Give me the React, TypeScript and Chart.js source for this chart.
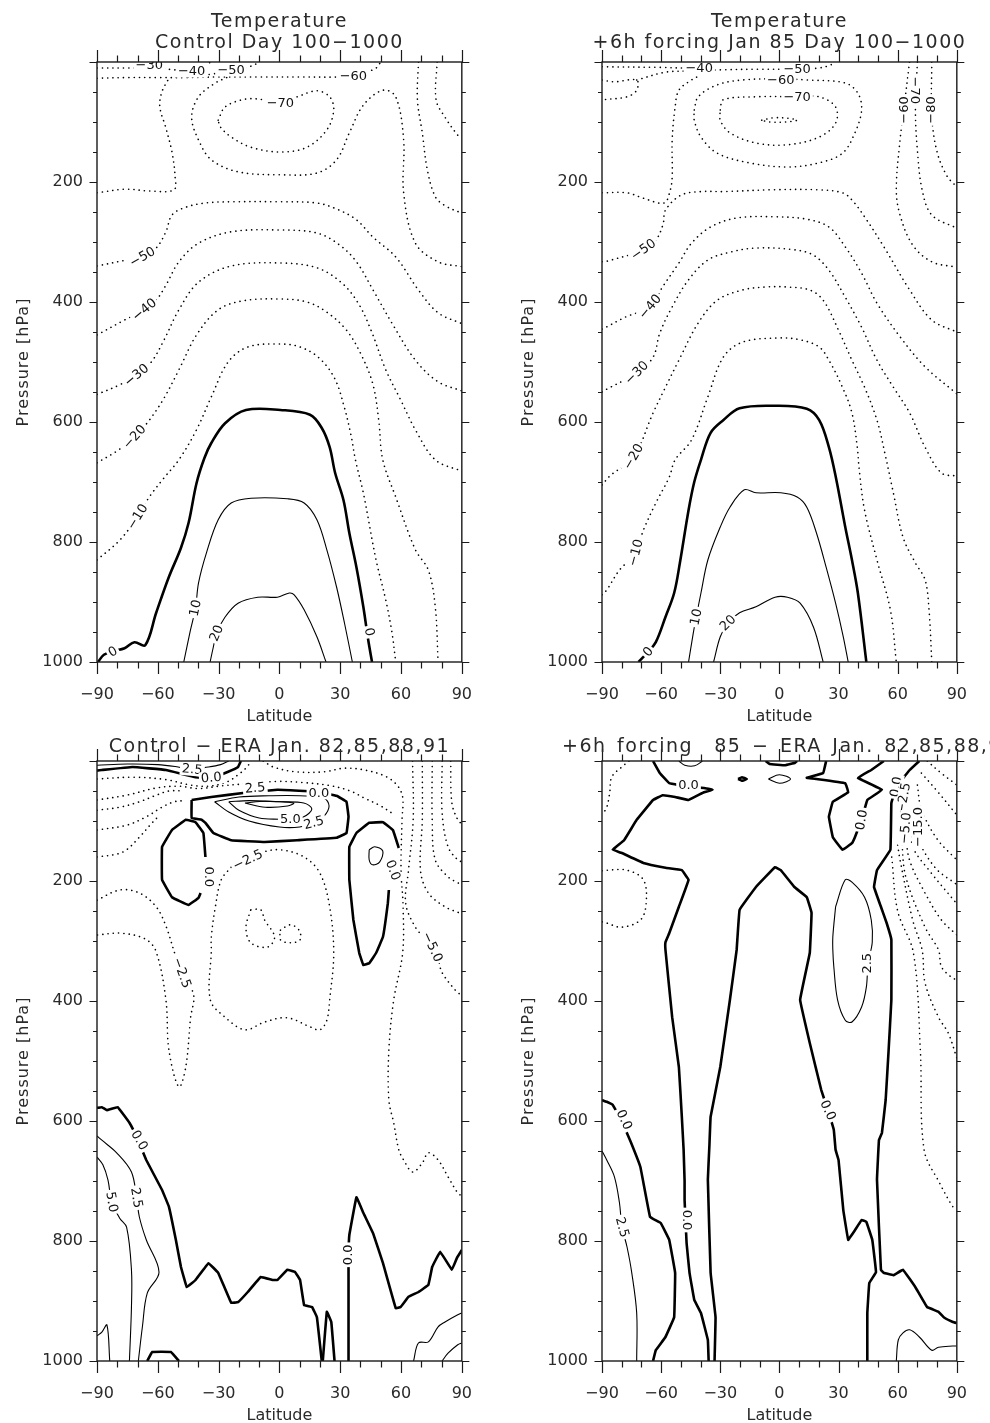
import React, { useEffect, useRef } from 'react';
import { Chart, registerables } from 'chart.js';
Chart.register(...registerables);

type P = [number, number];
type Lbl = [string, number, number, number];

// ---------- shared ticks ----------
const latTicks = [-90, -60, -30, 0, 30, 60, 90];
const presTicks = [200, 400, 600, 800, 1000];

// ---------- Panel A: Temperature, Control ----------
const A_0: P[] = [[-89.5,1000],[-86.6,988],[-82,982],[-76.4,977],[-71.5,967],[-66.2,972],[-60.8,918],[-54.5,858],[-48.6,810],[-44.8,768],[-40.9,702],[-37,660],[-33.6,635],[-26.8,602],[-16.5,580],[0.5,580],[15.1,588],[20.9,610],[24.8,642],[27.5,685],[31.6,730],[34.5,785],[38,842],[41.4,908],[43.8,963],[45.7,1000]];
const A_10: P[] = [[-47.2,1000],[-43.9,947],[-41.4,910],[-39.9,868],[-36,818],[-30.2,763],[-23.8,735],[-14,727],[3.9,728],[12.2,735],[18.5,763],[23.4,813],[28.2,875],[32.1,935],[36,1000]];
const A_20: P[] = [[-34.2,1000],[-32.6,975],[-31,952],[-26.8,925],[-20.4,902],[-10.7,892],[-1,892],[4.9,885],[7.3,888],[12.2,913],[18.5,958],[23,1000]];
const A_m10: P[] = [[-90,830],[-78.8,797],[-70,758],[-64.2,725],[-56.9,693],[-49.6,663],[-40.9,613],[-33.6,558],[-25.3,500],[-15.6,475],[0.5,470],[10.2,475],[19.5,493],[27.2,527],[32,575],[35.5,625],[37.5,663],[41.4,718],[47.7,830],[52.5,897],[55.5,950],[57.4,1000]];
const A_m20: P[] = [[-90,668],[-80,648],[-71.5,625],[-64.2,597],[-56.9,560],[-49.6,513],[-40.9,455],[-30.2,413],[-18,398],[0.5,395],[13.6,400],[23.4,417],[33.1,447],[40.4,488],[46.2,538],[49,597],[51,663],[57.4,725],[67.1,813],[73.5,847],[76.9,908],[78.3,1000]];
const A_m30: P[] = [[-90,554],[-78.8,538],[-70.5,522],[-63.2,500],[-56.9,463],[-49.6,413],[-39.9,367],[-23.8,340],[0.5,335],[18.5,343],[30.7,368],[38.9,402],[45.2,447],[52.5,513],[59.8,563],[67.1,613],[76.9,663],[90,682]];
const A_m40: P[] = [[-90,455],[-76.4,430],[-66.6,413],[-60.8,397],[-56,372],[-49.6,333],[-39.9,302],[-23.8,283],[0.5,280],[18.5,285],[29.7,305],[38,333],[46.2,380],[56,438],[67.1,497],[78.3,533],[90,548]];
const A_m50: P[] = [[-90,340],[-75.4,330],[-67.6,325],[-60.8,310],[-56,283],[-53,255],[-46.2,242],[-36.5,235],[-23.8,233],[0.5,233],[18.5,235],[28.2,245],[38,263],[46.2,292],[57.4,325],[68.6,380],[78.3,418],[90,436]];
const A_m60a: P[] = [[-90,218],[-76,212],[-64,215],[-52,213],[-51.5,190],[-53,150],[-56,110],[-59,75],[-58,50],[-55,30]];
const A_m60b: P[] = [[-90,27],[-75,26],[-60,26],[-45,26],[-30,25],[-10,25],[10,25],[30,25],[36.5,23],[42,18],[47.7,10],[50,0]];
const A_m60c: P[] = [[-26,26],[-31.6,35],[-39.9,58],[-43.3,92],[-39.9,130],[-33.6,163],[-20.4,183],[0.5,188],[18.5,185],[28.2,163],[34.5,118],[41.4,72],[51.1,47],[57.4,58],[61.3,130],[61.3,218],[67.1,302],[78.3,333],[90,341]];
const A_m70: P[] = [[-30.2,97],[-26.8,75],[-17,62],[-7.3,63],[0.5,68],[8.8,58],[18.5,48],[24.8,58],[26.8,80],[23.4,113],[13.6,142],[0.5,150],[-14.1,142],[-23.8,125],[-29.2,108],[-30.2,97]];
const A_m70b: P[] = [[68.6,0],[68.1,63],[70.5,118],[73,180],[77,225],[82,240],[90,252]];
const A_m80: P[] = [[77.8,0],[77.3,63],[81.7,92],[88,122],[90,127]];
const A_m30t: P[] = [[-90,10],[-75,10],[-67,9],[-62,4],[-60,0]];
const A_m40t: P[] = [[-62,9],[-52,13],[-43.3,15],[-38,10],[-34,0]];
const A_m50t: P[] = [[-45,25],[-33,20],[-23.8,14],[-16,9],[-12,4],[-10,0]];
const A_labels: Lbl[] = [
  ['−30',-64.2,5,0],['−40',-43.3,15,0],['−50',-23.8,13,0],['−60',36.5,23,0],['−70',0.5,68,0],
  ['−50',-67.6,325,-30],['−40',-66.6,413,-40],['−30',-70.5,522,-40],['−20',-71.5,625,-48],['−10',-70,758,-58],
  ['0',-82.2,983,-30],['10',-41.4,910,-78],['20',-31,952,-68],['0',44.3,950,80],
];

// ---------- Panel B: Temperature, +6h forcing ----------
const B_0: P[] = [[-71.5,1000],[-70.6,997],[-66.6,983],[-62.7,967],[-57.8,925],[-53.4,885],[-50.5,835],[-46.1,747],[-43.2,700],[-39.8,663],[-34.9,618],[-28.5,597],[-20.2,577],[-2.2,573],[13.9,578],[20.2,597],[25.1,642],[28.8,695],[33.4,775],[36.8,830],[39.8,885],[44.1,1000]];
const B_10: P[] = [[-46.1,1000],[-43.7,952],[-42.2,925],[-39.8,885],[-36.3,830],[-30,775],[-25.1,742],[-17.8,713],[-11.9,718],[0.7,718],[9,725],[13.9,742],[18.8,785],[23.7,842],[28.5,902],[32.4,958],[34.9,1000]];
const B_20: P[] = [[-33.4,1000],[-30,958],[-26.1,935],[-20.2,918],[-11.9,908],[-2.2,892],[4.1,892],[10.5,902],[17.3,942],[22.2,1000]];
const B_m10: P[] = [[-90,888],[-87.6,880],[-81.2,847],[-72.9,818],[-69,780],[-62.7,735],[-55.9,692],[-52.9,663],[-44.6,630],[-36.3,558],[-28.5,492],[-18.8,467],[-0.7,460],[10.5,463],[20.2,475],[25.1,497],[32,542],[36.8,585],[39.5,642],[40.5,680],[43.2,747],[49.5,830],[56.3,913],[59.3,1000]];
const B_m20: P[] = [[-90,705],[-86,690],[-74,658],[-64.1,585],[-57.8,542],[-51,497],[-41.2,435],[-31.5,397],[-18.8,380],[-7.1,375],[4.1,375],[15.4,380],[22.2,397],[30,447],[36.8,497],[43.2,542],[49.5,597],[53.5,652],[57.8,718],[62.7,792],[69,835],[73.9,863],[75.9,913],[77.3,1000]];
const B_m30: P[] = [[-90,550],[-88.5,547],[-72.4,518],[-64.1,492],[-60.7,452],[-54.4,408],[-46.1,363],[-36.3,330],[-25.1,317],[-11.9,310],[7.6,313],[17.3,322],[25.1,347],[33.4,392],[41.7,442],[49.5,497],[57.8,542],[66.1,585],[73.9,642],[82.2,685],[90,690]];
const B_m40: P[] = [[-90,445],[-88.5,443],[-78,425],[-65.6,408],[-59.3,375],[-51,335],[-44.6,302],[-34.9,275],[-21.7,260],[-2.2,258],[13.9,262],[25.1,275],[33.4,308],[41.7,352],[49.5,402],[61.2,458],[73.9,508],[90,553]];
const B_m50: P[] = [[-90,333],[-88.5,333],[-69,313],[-62.7,297],[-59,270],[-57.8,247],[-50,222],[-40,216],[-28.5,216],[-4.1,213],[20,213],[32,218],[36.8,230],[43.2,258],[53,308],[66.1,380],[77.3,430],[90,450]];
const B_m60a: P[] = [[-90,218],[-77.3,218],[-69,227],[-58.5,235],[-55.5,215],[-54.4,192],[-54.4,130],[-52.9,75],[-51,47],[-44.6,30],[-40,22]];
const B_m60: P[] = [[-43.2,80],[-41.2,58],[-31.5,38],[-18.8,30],[0.7,28],[13.9,30],[33.4,35],[39.8,52],[41.7,80],[38.3,118],[32,152],[20.2,168],[4.1,175],[-15.4,168],[-31.5,152],[-39.8,125],[-43.2,97],[-43.2,80]];
const B_m70: P[] = [[-30,80],[-28.5,63],[-11.9,58],[9,58],[20.2,58],[28.5,75],[28.5,102],[20.2,125],[4.1,138],[-11.9,135],[-25.1,118],[-30,97],[-30,80]];
const B_m80: P[] = [[-9,97],[-3,93],[5,94],[9,97],[3,100],[-5,100],[-9,97]];
const B_m40t: P[] = [[-90,8],[-60,9],[-45,10],[-36,6],[-32,0]];
const B_m50u: P[] = [[-90,30],[-83.7,33],[-72.4,30],[-72.4,47],[-77.3,58],[-90,63]];
const B_m50t: P[] = [[-72.4,30],[-57.8,17],[-44.6,15],[-28.5,13],[-10,12],[9,12],[20,10],[26,5],[28,0]];
const B_m60r: P[] = [[66,0],[63.7,63],[61.2,130],[59.3,213],[61.2,255],[67.6,305],[77.3,333],[90,342]];
const B_m70r: P[] = [[70,0],[69,80],[70,147],[72.4,213],[77.3,255],[90,277]];
const B_m80r: P[] = [[77.3,0],[77.3,90],[80,150],[85,190],[90,208]];
const B_labels: Lbl[] = [
  ['−40',-40.7,10,0],['−50',9,12,0],['−60',0.7,30,0],['−70',9,58,0],
  ['−60',63.2,80,-90],['−70',68.8,47,90],['−80',77,80,-90],
  ['−50',-69,313,-35],['−40',-65.6,408,-50],['−30',-72.4,518,-45],['−20',-74,658,-60],['−10',-72.9,818,-75],
  ['0',-66.6,983,-50],['10',-42.2,925,-78],['20',-26.1,935,-45],
];

// ---------- Panel C: Control - ERA ----------
const C_0a: P[] = [[-90,16],[-87.6,15],[-72.5,10],[-56,15],[-41.4,27],[-33,28],[-25.3,18],[-20.4,10],[-19,0]];
const C_25a: P[] = [[-90,7],[-75,5],[-60,6],[-50,10],[-43.3,14],[-37,11],[-29,6],[-25,0]];
const C_0b: P[] = [[-43.3,65],[-33.6,60],[-17,53],[-1,48],[12.2,50],[20,52],[28.2,58],[33.1,68],[34.1,93],[33.1,120],[28.2,128],[8.8,132],[-7.3,135],[-23.8,132],[-32.6,120],[-36.5,103],[-38.4,98],[-43.3,95],[-43.3,65]];
const C_0c: P[] = [[-36.5,160],[-37.5,120],[-41.4,102],[-46.2,98],[-53,115],[-57.9,143],[-57.9,198],[-53,227],[-44.8,240],[-39.9,228],[-38.9,220]];
const C_0d: P[] = [[58.9,145],[56,115],[51.1,102],[44.3,103],[38,120],[34.5,143],[34.5,198],[36.5,265],[39.4,320],[41.4,340],[44.3,337],[47.7,320],[51.1,293],[53.5,237],[54,215]];
const C_25b: P[] = [[44.3,148],[47,143],[51,150],[49.5,168],[46,173],[44.3,165],[44.3,148]];
const C_25c: P[] = [[-32,68],[-25,85],[-15,100],[0,110],[10,110],[17,103],[22,92],[24.5,75],[22,62],[10,58],[-5,58],[-20,60],[-32,68]];
const C_50: P[] = [[-25,68],[-20,82],[-10,95],[0,97],[5,97],[12,93],[16,80],[12,70],[0,68],[-15,66],[-25,68]];
const C_75: P[] = [[-17,70],[-7,77],[4,75],[7,70],[-7,67],[-17,70]];
const C_m25big: P[] = [[-23.8,177],[-28.7,198],[-31.6,243],[-33.6,293],[-33.6,315],[-34.1,398],[-26.8,427],[-17,448],[-7.3,435],[3.9,428],[15.1,443],[20,448],[23.4,432],[24.8,398],[26.8,320],[24.8,243],[20,187],[12.2,160],[0.5,148],[-9.2,153],[-15.6,165],[-23.8,177]];
const C_m5a: P[] = [[-14.1,248],[-9.2,248],[-7.3,265],[-2.4,293],[-5.8,310],[-14.1,303],[-16.5,277],[-14.1,248]];
const C_m5b: P[] = [[0.5,282],[5.4,273],[9.7,282],[10.2,298],[5.4,303],[0.5,298],[0.5,282]];
const C_m25l: P[] = [[-90,232],[-78.8,215],[-69.1,220],[-60.8,243],[-56,275],[-51,327],[-47,360],[-42.3,390],[-43.8,427],[-46.2,510],[-49.6,543],[-54.5,482],[-56,398],[-60.8,318],[-66,297],[-78,287],[-90,290]];
const C_u1: P[] = [[-90,30],[-72.5,27],[-56,31],[-44,40],[-35,42],[-26,35],[-20,22],[-16,10],[-14,0]];
const C_u2: P[] = [[-90,65],[-75.4,57],[-60.8,45],[-49.6,42],[-40,46],[-30,42],[-17,38],[-1,34],[12,36],[25,41],[35,50],[42,62],[50,75],[56,88]];
const C_u3: P[] = [[-90,82],[-78.8,77],[-69.1,68],[-60.8,57],[-54.5,50],[-47,50]];
const C_u4: P[] = [[-90,115],[-75.4,107],[-65.7,93],[-57.9,77],[-52,68],[-47,66]];
const C_u5: P[] = [[-90,160],[-80,155],[-75.4,148],[-69.1,127],[-62.8,103],[-59,90]];
const C_0e: P[] = [[-90,578],[-87.6,577],[-85.1,582],[-79.8,577],[-74,603],[-70,630],[-65.7,665],[-57.9,715],[-54.5,743],[-51.1,798],[-48.6,843],[-45.7,877],[-41.4,865],[-35,837],[-30.2,853],[-23.8,903],[-20.4,902],[-15.6,885],[-9.2,860],[-3.4,865],[-1,865],[3.9,848],[7.8,852],[10.2,865],[12.2,907],[16.1,910],[18.5,927],[20.9,1000]];
const C_0f: P[] = [[21.4,1000],[23.4,918],[25.6,935],[27.2,1000]];
const C_0g: P[] = [[-65.2,1000],[-62.8,985],[-53.5,985],[-49.6,1000]];
const C_0h: P[] = [[34.1,1000],[34.1,860],[34.1,823],[34.5,790],[38,727],[41.4,753],[46.2,787],[51.1,837],[57.4,912],[59.8,910],[63.7,893],[68.6,885],[73.5,873],[75.4,843],[79.3,818],[85.1,848],[87.6,828],[90,815]];
const C_25d: P[] = [[-90,625],[-87.6,632],[-80.3,653],[-73,685],[-70.5,728],[-69.1,760],[-65.7,798],[-59.4,852],[-65.2,887],[-67.6,943],[-69.6,1000]];
const C_50d: P[] = [[-90,660],[-87.1,673],[-84.6,698],[-82.7,735],[-78.8,762],[-75.4,777],[-73,848],[-73,910],[-74,1000]];
const C_75d: P[] = [[-90,958],[-87.6,952],[-85.1,940],[-83.7,1000]];
const C_25e: P[] = [[66.2,1000],[68.6,970],[73.5,968],[78.3,943],[81.7,935],[88,923],[90,920]];
const C_50e: P[] = [[80.3,1000],[83.2,987],[88,973],[90,970]];
const C_b1: P[] = [[-8,0],[-3,10],[8,18],[22,18],[32,12],[42,15],[52,25],[58,40],[60.8,60],[60.5,98],[60,182],[61,240],[60.8,320],[56.4,398],[54,482],[54,565],[56.4,603],[58.9,648],[61.3,665],[65.7,685],[70.5,670],[73.5,653],[78.3,665],[83.2,693],[88,720],[90,725]];
const C_b2: P[] = [[65.7,0],[66,98],[63.7,182],[62.3,237],[67.1,277],[73.5,303],[78.3,332],[80.3,353],[87.6,385],[90,390]];
const C_b3: P[] = [[70.5,0],[70.5,98],[69.6,182],[73.5,220],[81.7,243],[88,252],[90,254]];
const C_b4: P[] = [[75.4,0],[75.4,98],[76.9,165],[83.2,193],[88,203],[90,206]];
const C_b5: P[] = [[80.3,0],[80.3,87],[83.2,143],[88,165],[90,168]];
const C_b6: P[] = [[84.5,0],[85.1,70],[88,98],[90,105]];
const C_labels: Lbl[] = [
  ['2.5',-43,14,5],['0.0',-33.6,28,-5],['2.5',-12,45,-5],['0.0',19.5,53,0],['5.0',5.4,97,0],['2.5',17,103,-15],
  ['−2.5',-15.6,165,-25],['0.0',-35,193,90],['0.0',56,182,70],['−2.5',-48.2,353,70],['−5.0',75.4,310,65],
  ['0.0',-69.1,632,60],['5.0',-82.7,735,80],['2.5',-70.5,728,80],['0.0',34.1,823,-90],
];

// ---------- Panel D: +6h forcing 85 - ERA ----------
const D_0a: P[] = [[-64.1,0],[-60.7,20],[-55.9,37],[-46,43],[-38.3,45],[-33.9,48],[-38.3,52],[-46.1,65],[-52.9,60],[-59.3,57],[-64.1,65],[-72.4,98],[-78.8,132],[-84.6,148],[-80.2,153],[-69,170],[-57.8,178],[-49.5,182],[-46.1,198],[-51,243],[-55.9,287],[-57.8,302],[-57.8,315],[-54.4,427],[-51,510],[-49.5,593],[-48.6,648],[-48.1,700],[-48.1,732],[-47.1,803],[-45.6,853],[-43.2,898],[-39.8,920],[-36.3,965],[-35.9,1000]];
const D_0b: P[] = [[-90,565],[-87.6,568],[-84.6,573],[-80,600],[-75.4,635],[-70.5,677],[-65.6,760],[-60.2,770],[-55.9,798],[-52.9,853],[-53.4,927],[-57.8,960],[-62.7,982],[-64.1,1000]];
const D_0c: P[] = [[-32.9,1000],[-32.4,927],[-34.9,853],[-36.3,698],[-35.5,640],[-34.9,593],[-30,510],[-25.1,398],[-21.7,315],[-20.2,248],[-11.9,210],[-2.2,177],[0.7,182],[7.6,210],[13.9,227],[16.3,253],[15.4,320],[10.5,398],[15.4,470],[21.2,548],[24.6,582],[27.6,615],[28.5,648],[30,665],[32.4,748],[34.9,798],[38.3,782],[41.7,765],[44.1,768],[47.1,798],[49,852],[45.6,870],[44.6,920],[44.6,1000]];
const D_0d: P[] = [[71,0],[66.1,15],[59.3,43],[56.8,70],[56.3,148],[49.5,182],[48,210],[51.5,243],[54.4,270],[56.8,298],[56.8,398],[55.4,482],[53.9,565],[52,620],[50.5,632],[49.5,698],[51.5,848],[52.9,853],[57.8,857],[62.7,848],[69,877],[74.9,910],[80.7,918],[83.7,928],[88,935],[90,937]];
const D_0e: P[] = [[23.7,0],[22.2,20],[13.9,28],[18.8,30],[33.4,37],[34.9,52],[27.1,68],[25.1,93],[27.1,127],[32,148],[36.8,137],[38.3,127],[41.7,98],[44.6,65],[52,48],[39.8,28],[46.6,15],[53,0]];
const D_0f: P[] = [[-7,0],[-5,5],[3,7],[8,3],[9,0]];
const D_0g: P[] = [[-21,30],[-19,27],[-16.5,30],[-19,33],[-21,30]];
const D_25a: P[] = [[-5.6,30],[0,23],[5.6,30],[0,37],[-5.6,30]];
const D_25b: P[] = [[-51,0],[-48,7],[-43,8],[-39,0]];
const D_25c: P[] = [[28.5,243],[33.4,198],[36.8,202],[43.2,227],[46.6,265],[47.1,302],[45,337],[44.1,377],[41.7,410],[36.8,435],[33.4,432],[29.5,398],[27.6,343],[27.1,315],[27.1,293],[28.5,243]];
const D_25d: P[] = [[-90,650],[-87.6,665],[-83.7,693],[-81.2,735],[-79.8,777],[-77.3,810],[-74.9,853],[-72.4,920],[-72.4,1000]];
const D_25e: P[] = [[59.3,1000],[60.3,965],[62.7,953],[66.1,948],[71,960],[77.3,982],[80.7,977],[88,975],[90,975]];
const D_d1: P[] = [[-76.3,0],[-80,10],[-85.1,27],[-86.1,53],[-87.6,77],[-90,90]];
const D_d2: P[] = [[-90,183],[-87.6,182],[-77.3,182],[-69,198],[-67.6,237],[-70.5,265],[-80.2,277],[-87.6,270],[-90,268]];
const D_r1: P[] = [[57,160],[60,250],[68,320],[71.5,482],[73.4,648],[81.2,703],[88,743],[90,748]];
const D_r2: P[] = [[60,140],[61.2,165],[67.6,265],[72.4,315],[73.9,370],[80.7,427],[85.6,453],[90,495]];
const D_r3: P[] = [[62,130],[64.1,193],[73.9,277],[80.7,315],[82.2,343],[87.1,360],[90,365]];
const D_r4: P[] = [[64,120],[66,165],[73.9,220],[82.2,265],[90,290]];
const D_r5: P[] = [[66,100],[67.6,143],[75.9,182],[90,238]];
const D_r6: P[] = [[68,80],[69,120],[78.8,177],[90,206]];
const D_r7: P[] = [[70,40],[72,80],[80,130],[90,165]];
const D_r8: P[] = [[72,20],[80,50],[90,90]];
const D_r9: P[] = [[75,0],[82,20],[90,40]];
const D_labels: Lbl[] = [
  ['0.0',-46.1,40,0],['0.0',41.7,98,-80],['0.0',59.3,43,-80],['−2.5',63,62,-80],['−5.0',64,112,-85],['−15.0',70.5,110,-90],
  ['2.5',44.6,337,-90],['0.0',-78.8,598,65],['0.0',24.6,582,65],['0.0',-47.1,765,90],['2.5',-79.8,777,75],
];

// ---------- rendering ----------
type Line = { lv: number; pts: P[] };
type PanelCfg = {
  title: string[];
  titleWordSpacing: number;
  lines: Line[];
  labels: Lbl[];
  x: number; y: number; w: number; h: number;
  ca: { l: number; r: number; t: number; b: number };
  jag: boolean;
};

const FONT = '"DejaVu Sans", "Liberation Sans", sans-serif';

const panels: PanelCfg[] = [
  {
    title: ['Temperature', 'Control Day 100−1000'], titleWordSpacing: 0,
    lines: [
      { lv: 0, pts: A_0 }, { lv: 10, pts: A_10 }, { lv: 20, pts: A_20 },
      { lv: -10, pts: A_m10 }, { lv: -20, pts: A_m20 }, { lv: -30, pts: A_m30 }, { lv: -40, pts: A_m40 },
      { lv: -50, pts: A_m50 }, { lv: -60, pts: A_m60a }, { lv: -60, pts: A_m60b }, { lv: -60, pts: A_m60c },
      { lv: -70, pts: A_m70 }, { lv: -70, pts: A_m70b }, { lv: -80, pts: A_m80 },
      { lv: -30, pts: A_m30t }, { lv: -40, pts: A_m40t }, { lv: -50, pts: A_m50t },
    ],
    labels: A_labels,
    x: 0, y: 0, w: 495, h: 730, ca: { l: 97, r: 467, t: 62, b: 662 }, jag: false,
  },
  {
    title: ['Temperature', '+6h forcing Jan 85 Day 100−1000'], titleWordSpacing: 0,
    lines: [
      { lv: 0, pts: B_0 }, { lv: 10, pts: B_10 }, { lv: 20, pts: B_20 },
      { lv: -10, pts: B_m10 }, { lv: -20, pts: B_m20 }, { lv: -30, pts: B_m30 }, { lv: -40, pts: B_m40 },
      { lv: -50, pts: B_m50 }, { lv: -60, pts: B_m60a }, { lv: -60, pts: B_m60 }, { lv: -70, pts: B_m70 },
      { lv: -80, pts: B_m80 }, { lv: -40, pts: B_m40t }, { lv: -50, pts: B_m50u }, { lv: -50, pts: B_m50t },
      { lv: -60, pts: B_m60r }, { lv: -70, pts: B_m70r }, { lv: -80, pts: B_m80r },
    ],
    labels: B_labels,
    x: 495, y: 0, w: 495, h: 730, ca: { l: 107, r: 476, t: 62, b: 662 }, jag: false,
  },
  {
    title: ['Control − ERA Jan. 82,85,88,91'], titleWordSpacing: 0,
    lines: [
      { lv: 0, pts: C_0a }, { lv: 2.5, pts: C_25a }, { lv: 0, pts: C_0b }, { lv: 0, pts: C_0c }, { lv: 0, pts: C_0d },
      { lv: 2.5, pts: C_25b }, { lv: 2.5, pts: C_25c }, { lv: 5, pts: C_50 }, { lv: 7.5, pts: C_75 },
      { lv: -2.5, pts: C_m25big }, { lv: -5, pts: C_m5a }, { lv: -5, pts: C_m5b }, { lv: -2.5, pts: C_m25l },
      { lv: -2.5, pts: C_u1 }, { lv: -2.5, pts: C_u2 }, { lv: -5, pts: C_u3 }, { lv: -7.5, pts: C_u4 }, { lv: -5, pts: C_u5 },
      { lv: 0, pts: C_0e }, { lv: 0, pts: C_0f }, { lv: 0, pts: C_0g }, { lv: 0, pts: C_0h },
      { lv: 2.5, pts: C_25d }, { lv: 5, pts: C_50d }, { lv: 7.5, pts: C_75d }, { lv: 2.5, pts: C_25e }, { lv: 5, pts: C_50e },
      { lv: -2.5, pts: C_b1 }, { lv: -5, pts: C_b2 }, { lv: -7.5, pts: C_b3 }, { lv: -10, pts: C_b4 }, { lv: -12.5, pts: C_b5 }, { lv: -15, pts: C_b6 },
    ],
    labels: C_labels,
    x: 0, y: 730, w: 495, h: 693, ca: { l: 97, r: 467, t: 31, b: 631 }, jag: true,
  },
  {
    title: ['+6h forcing  85 − ERA Jan. 82,85,88,91'], titleWordSpacing: 3,
    lines: [
      { lv: 0, pts: D_0a }, { lv: 0, pts: D_0b }, { lv: 0, pts: D_0c }, { lv: 0, pts: D_0d }, { lv: 0, pts: D_0e },
      { lv: 0, pts: D_0f }, { lv: 0, pts: D_0g },
      { lv: 2.5, pts: D_25a }, { lv: 2.5, pts: D_25b }, { lv: 2.5, pts: D_25c }, { lv: 2.5, pts: D_25d }, { lv: 2.5, pts: D_25e },
      { lv: -2.5, pts: D_d1 }, { lv: -2.5, pts: D_d2 },
      { lv: -2.5, pts: D_r1 }, { lv: -5, pts: D_r2 }, { lv: -7.5, pts: D_r3 }, { lv: -10, pts: D_r4 }, { lv: -12.5, pts: D_r5 },
      { lv: -15, pts: D_r6 }, { lv: -17.5, pts: D_r7 }, { lv: -20, pts: D_r8 }, { lv: -22.5, pts: D_r9 },
    ],
    labels: D_labels,
    x: 495, y: 730, w: 495, h: 693, ca: { l: 107, r: 476, t: 31, b: 631 }, jag: true,
  },
];

function fmt(v: number): string {
  return v < 0 ? '\u2212' + Math.abs(v) : String(v);
}

function makePlugin(cfg: PanelCfg) {
  return {
    id: 'contourDecor',
    afterDatasetsDraw(chart: any) {
      const { ctx, chartArea: a, scales } = chart;
      const xs = scales.x, ys = scales.y;
      ctx.save();
      ctx.beginPath();
      ctx.rect(a.left, a.top, a.right - a.left, a.bottom - a.top);
      ctx.clip();
      ctx.font = '13px ' + FONT;
      ctx.textAlign = 'center';
      ctx.textBaseline = 'middle';
      for (const [txt, lat, p, ang] of cfg.labels) {
        const px = xs.getPixelForValue(lat);
        const py = ys.getPixelForValue(p);
        ctx.save();
        ctx.translate(px, py);
        ctx.rotate((ang * Math.PI) / 180);
        const w = ctx.measureText(txt).width;
        ctx.fillStyle = '#fff';
        ctx.fillRect(-w / 2 - 2, -6.5, w + 4, 13);
        ctx.fillStyle = '#111';
        ctx.fillText(txt, 0, 0.5);
        ctx.restore();
      }
      ctx.restore();
    },
    afterDraw(chart: any) {
      const { ctx, chartArea: a, scales } = chart;
      const xs = scales.x, ys = scales.y;
      ctx.save();
      ctx.strokeStyle = '#1a1a1a';
      ctx.lineWidth = 1.4;
      ctx.strokeRect(a.left, a.top, a.right - a.left, a.bottom - a.top);
      ctx.lineWidth = 1.2;
      ctx.beginPath();
      for (let lat = -90; lat <= 90; lat += 10) {
        const major = lat % 30 === 0;
        const len = major ? 12 : 6.5;
        const px = Math.round(xs.getPixelForValue(lat)) + 0.5;
        ctx.moveTo(px, a.bottom); ctx.lineTo(px, a.bottom + len);
        ctx.moveTo(px, a.top); ctx.lineTo(px, a.top - len);
      }
      for (let p = 0; p <= 1000; p += 50) {
        const major = p % 200 === 0;
        const len = major ? 7.5 : 4;
        const py = Math.round(ys.getPixelForValue(p)) + 0.5;
        ctx.moveTo(a.left - len, py); ctx.lineTo(a.left, py);
        ctx.moveTo(a.right, py); ctx.lineTo(a.right + len, py);
      }
      ctx.stroke();

      const cx = (a.left + a.right) / 2;
      ctx.fillStyle = '#2a2a2a';
      ctx.textBaseline = 'alphabetic';
      ctx.font = '19px ' + FONT;
      (ctx as any).letterSpacing = '1.5px';
      (ctx as any).wordSpacing = cfg.titleWordSpacing + 'px';
      if (cfg.title.length === 2) {
        ctx.textAlign = 'center';
        ctx.fillText(cfg.title[0], cx, a.top - 35);
        ctx.fillText(cfg.title[1], cx, a.top - 14);
      } else if (cfg.titleWordSpacing > 0) {
        ctx.textAlign = 'left';
        ctx.fillText(cfg.title[0], a.left - 40, a.top - 9);
      } else {
        ctx.textAlign = 'center';
        ctx.fillText(cfg.title[0], cx, a.top - 9);
      }
      (ctx as any).wordSpacing = '0px';
      ctx.textAlign = 'center';
      ctx.font = '16px ' + FONT;
      (ctx as any).letterSpacing = '0px';
      ctx.fillText('Latitude', cx, a.bottom + 59);
      (ctx as any).letterSpacing = '1px';
      ctx.save();
      ctx.translate(a.left - 69, (a.top + a.bottom) / 2);
      ctx.rotate(-Math.PI / 2);
      ctx.fillText('Pressure [hPa]', 0, 0);
      ctx.restore();
      (ctx as any).letterSpacing = '0px';
      ctx.restore();
    },
  };
}

function PanelChart({ cfg }: { cfg: PanelCfg }) {
  const ref = useRef<HTMLCanvasElement | null>(null);
  useEffect(() => {
    if (!ref.current) return;
    const datasets = cfg.lines.map((ln) => {
      const neg = ln.lv < 0;
      const zero = ln.lv === 0;
      return {
        data: ln.pts.map(([x, y]) => ({ x, y })),
        showLine: true,
        pointRadius: 0,
        pointHoverRadius: 0,
        borderColor: '#000',
        borderWidth: zero ? 2.6 : neg ? 1.6 : 1.1,
        borderDash: neg ? [0.1, 5.2] : [],
        borderCapStyle: neg ? 'round' : 'butt',
        borderJoinStyle: 'round',
        tension: cfg.jag && zero ? 0.05 : 0.35,
        fill: false,
      } as any;
    });
    const ca = cfg.ca;
    const chart = new Chart(ref.current, {
      type: 'scatter',
      data: { datasets },
      options: {
        animation: false,
        responsive: false,
        events: [],
        layout: { padding: { left: 0, top: ca.t, right: cfg.w - ca.r, bottom: 0 } },
        plugins: { legend: { display: false }, tooltip: { enabled: false }, title: { display: false } },
        scales: {
          x: {
            type: 'linear', min: -90, max: 90,
            afterBuildTicks: (s: any) => { s.ticks = latTicks.map((v) => ({ value: v })); },
            afterFit: (s: any) => { s.height = cfg.h - ca.b; },
            ticks: { font: { family: FONT, size: 16 }, color: '#2a2a2a', padding: 23, maxRotation: 0, autoSkip: false, callback: (v: any) => fmt(Number(v)) },
            grid: { display: false, drawTicks: false },
            border: { display: false },
          },
          y: {
            type: 'linear', min: 0, max: 1000, reverse: true,
            afterBuildTicks: (s: any) => { s.ticks = presTicks.map((v) => ({ value: v })); },
            afterFit: (s: any) => { s.width = ca.l; },
            ticks: { font: { family: FONT, size: 16 }, color: '#2a2a2a', padding: 14, autoSkip: false, callback: (v: any) => fmt(Number(v)) },
            grid: { display: false, drawTicks: false },
            border: { display: false },
          },
        },
      } as any,
      plugins: [makePlugin(cfg) as any],
    });
    return () => chart.destroy();
  }, [cfg]);
  return (
    <canvas
      ref={ref}
      width={cfg.w}
      height={cfg.h}
      style={{ position: 'absolute', left: cfg.x, top: cfg.y, width: cfg.w, height: cfg.h }}
    />
  );
}

export default function App() {
  return (
    <div style={{ position: 'absolute', left: 0, top: 0, width: 990, height: 1423, background: '#fff', overflow: 'hidden' }}>
      {panels.map((p, i) => (
        <PanelChart key={i} cfg={p} />
      ))}
    </div>
  );
}
